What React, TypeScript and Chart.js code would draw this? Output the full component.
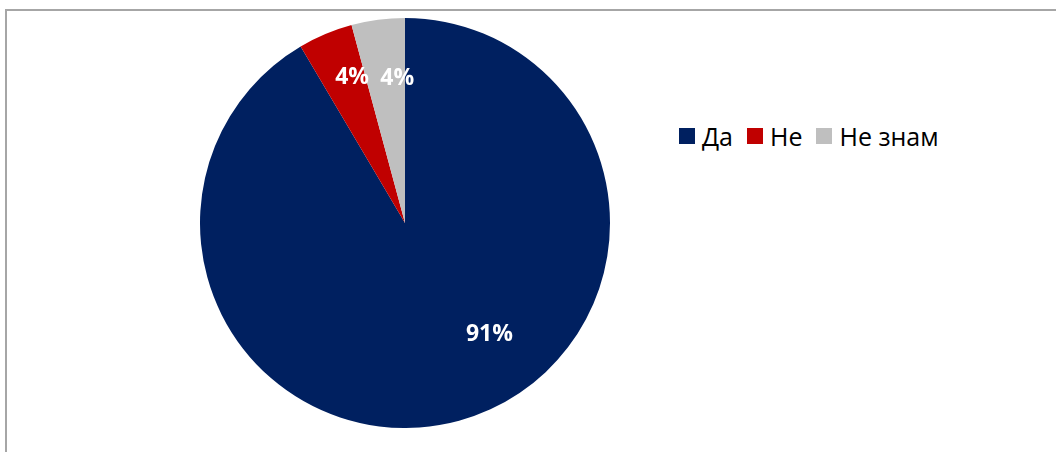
import React, { useEffect, useRef } from "react";
import { Chart, registerables } from "chart.js";

Chart.register(...registerables);

const categories = ["Да", "Не", "Не знам"];
const values = [91.5, 4.3, 4.2];
const valueLabels = ["91%", "4%", "4%"];
const colors = ["#002060", "#C00000", "#BFBFBF"];
// label placement (fraction of radius, angle shift in degrees) per slice
const labelRadius = [0.68, 0.76, 0.71];
const labelAngleShift = [-22, 3, 4.5];

const labelPlugin = {
  id: "sliceLabels",
  afterDatasetsDraw(chart: any) {
    const meta = chart.getDatasetMeta(0);
    const ctx = chart.ctx;
    ctx.save();
    ctx.fillStyle = "#ffffff";
    ctx.font = "bold 23px 'Open Sans', sans-serif";
    ctx.textAlign = "center";
    ctx.textBaseline = "middle";
    meta.data.forEach((arc: any, i: number) => {
      const mid = (arc.startAngle + arc.endAngle) / 2 + (labelAngleShift[i] * Math.PI) / 180;
      const r = arc.outerRadius * labelRadius[i];
      const x = arc.x + Math.cos(mid) * r;
      const y = arc.y + Math.sin(mid) * r;
      ctx.fillText(valueLabels[i], x, y + 1);
    });
    ctx.restore();
  },
};

export default function App() {
  const ref = useRef<HTMLCanvasElement | null>(null);
  useEffect(() => {
    if (!ref.current) return;
    const chart = new Chart(ref.current, {
      type: "pie",
      data: {
        labels: categories,
        datasets: [
          {
            data: values,
            backgroundColor: colors,
            borderWidth: 0,
          },
        ],
      },
      options: {
        animation: false,
        responsive: false,
        rotation: 0,
        layout: { padding: 0 },
        plugins: {
          legend: { display: false },
          tooltip: { enabled: false },
        },
      },
      plugins: [labelPlugin],
    });
    return () => chart.destroy();
  }, []);

  return (
    <div
      style={{
        position: "fixed",
        left: 0,
        top: 0,
        width: 1056,
        height: 452,
        background: "#fff",
        overflow: "hidden",
      }}
    >
      <div
        style={{
          position: "absolute",
          left: 5,
          top: 9,
          width: 1080,
          height: 480,
          border: "2px solid #a6a6a6",
          boxSizing: "border-box",
        }}
      />
      <canvas
        ref={ref}
        width={410}
        height={410}
        style={{ position: "absolute", left: 200, top: 18, width: 410, height: 410 }}
      />
      <div
        style={{
          position: "absolute",
          left: 679,
          top: 118,
          height: 36,
          display: "flex",
          alignItems: "center",
          fontFamily: "'Open Sans', 'Noto Sans', sans-serif",
          fontSize: 25,
          color: "#000",
          whiteSpace: "nowrap",
        }}
      >
        {categories.map((c, i) => (
          <div key={c} style={{ display: "flex", alignItems: "center", marginRight: 14 }}>
            <span
              style={{
                display: "inline-block",
                width: 16,
                height: 16,
                background: colors[i],
                marginRight: 7,
              }}
            />
            <span>{c}</span>
          </div>
        ))}
      </div>
    </div>
  );
}
